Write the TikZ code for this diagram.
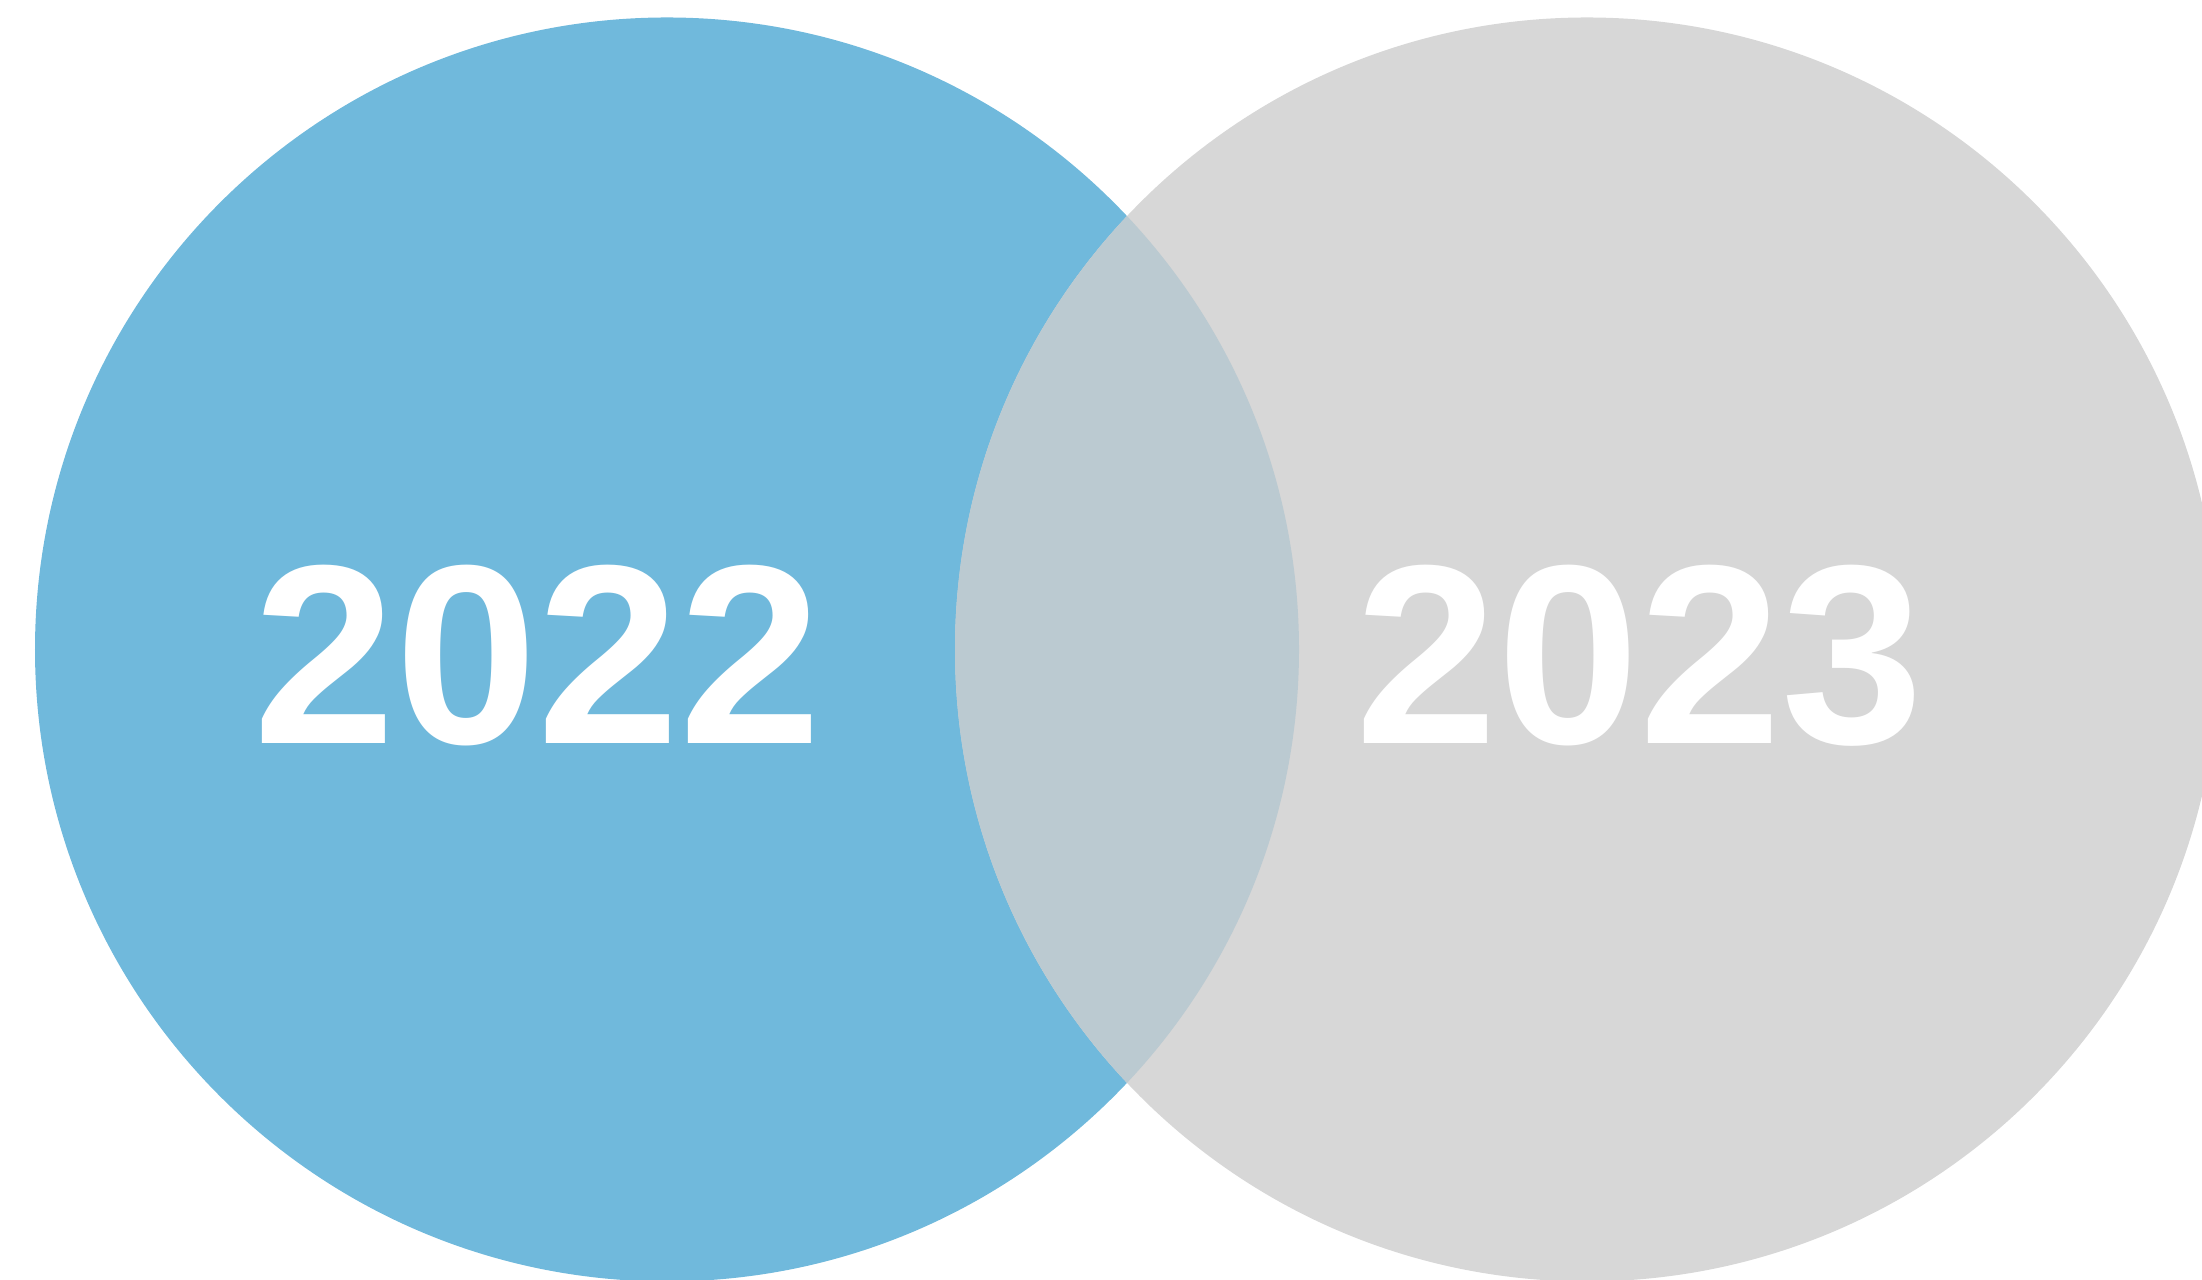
\documentclass[tikz,border=0pt]{standalone}
\usepackage{fontspec}
\usepackage{xcolor}
\usepackage{tikz}
\usetikzlibrary{positioning,calc}
\newfontfamily\yearfont{Liberation Sans}
\definecolor{blue22}{HTML}{70B9DC}
\definecolor{gray23}{HTML}{D7D7D7}
\definecolor{both}{HTML}{BBCAD1}

\begin{document}
\begin{tikzpicture}[year/.style = {anchor = base, inner sep = 0pt, text = white, font = \yearfont\bfseries\fontsize{72.7pt}{80pt}\selectfont}]
\clip (0,0) rectangle (22.02,12.80);
\coordinate (c22) at (6.67,6.305);
\coordinate (c23) at (15.87,6.305);
\fill[blue22] (c22) circle (6.32);
\fill[gray23] (c23) circle (6.32);
\begin{scope}
\clip (c22) circle (6.32);
\fill[both] (c23) circle (6.32);
\end{scope}
%\node at (c22) {2022};
\node[year] (y22) at (5.375,5.36) {2022};
\node[year] (y23) at (16.40,5.36) {2023};
\end{tikzpicture}
\end{document}
